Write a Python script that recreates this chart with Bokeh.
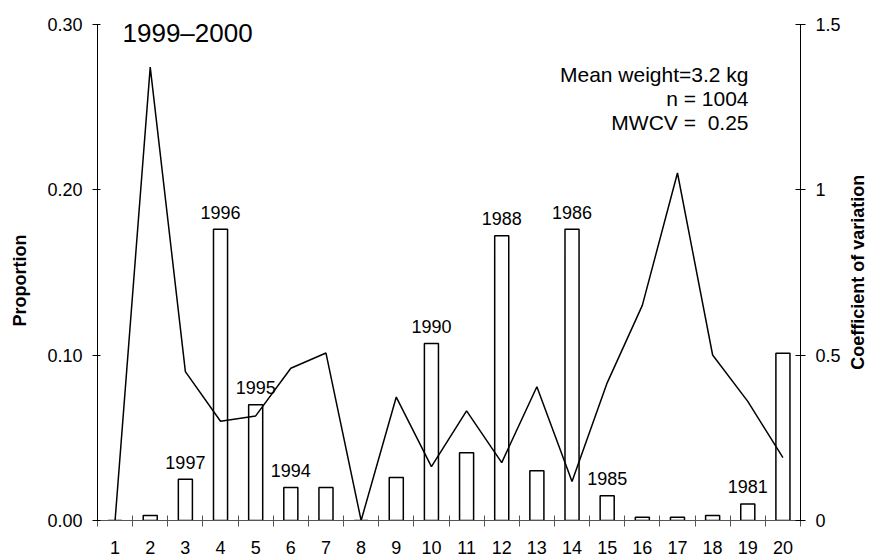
from math import pi
from bokeh.plotting import figure
from bokeh.models import (LinearAxis, Range1d, FixedTicker, NumeralTickFormatter,
                          Label, ColumnDataSource)
from bokeh.core.properties import value
from bokeh.embed import file_html
from bokeh.resources import INLINE

# ---------------- data ----------------
categories = list(range(1, 21))
proportion = [0.000, 0.003, 0.025, 0.176, 0.070, 0.020, 0.020, 0.000, 0.026, 0.107,
              0.041, 0.172, 0.030, 0.176, 0.015, 0.002, 0.002, 0.003, 0.010, 0.101]
coef_var = [0.00, 1.37, 0.45, 0.30, 0.316, 0.46, 0.506, 0.00, 0.373, 0.163,
            0.331, 0.175, 0.404, 0.118, 0.416, 0.65, 1.05, 0.50, 0.36, 0.19]
year_cats = [3, 4, 5, 6, 10, 12, 14, 15, 19]
year_labels = ["1997", "1996", "1995", "1994", "1990", "1988", "1986", "1985", "1981"]
prop_ticks = [0.0, 0.1, 0.2, 0.3]
cv_ticks = [0, 0.5, 1, 1.5]
cv_tick_labels = ["0", "0.5", "1", "1.5"]
title_text = "1999\u20132000"
stats_lines = ["Mean weight=3.2 kg", "n = 1004", "MWCV =\u00a0 0.25"]
y_label = "Proportion"
y2_label = "Coefficient of variation"

FONT = "Liberation Sans"
PROP_MAX, CV_MAX = 0.30, 1.5
HEADROOM = 0.01 / 0.30  # extra room above the axes for the panel title

p = figure(width=870, height=556, output_backend="svg", toolbar_location=None,
           x_range=Range1d(0.5, 20.5),
           y_range=Range1d(0, PROP_MAX * (1 + HEADROOM)),
           min_border_left=97, min_border_right=70, min_border_top=7,
           min_border_bottom=35)
p.extra_y_ranges = {"cv": Range1d(0, CV_MAX * (1 + HEADROOM))}
p.outline_line_color = None
p.xgrid.visible = False
p.ygrid.visible = False
p.background_fill_color = "white"

# bars
src = ColumnDataSource(dict(x=categories, top=proportion))
p.vbar(x="x", top="top", width=0.4, source=src, fill_color="white",
       line_color="black", line_width=1.5)

# CV line
p.line(categories, coef_var, y_range_name="cv", line_color="black", line_width=1.5)

# year labels above bars
lab_y = [proportion[c - 1] for c in year_cats]
p.text(x=year_cats, y=lab_y, text=year_labels, text_align="center",
       text_baseline="alphabetic", y_offset=-17, text_font=value(FONT),
       text_font_size="18px", text_color="black")

# x axis
xa = p.xaxis[0]
xa.ticker = FixedTicker(ticks=categories, minor_ticks=[c - 0.5 for c in categories] + [20.5])
xa.major_tick_in = 0
xa.major_tick_out = 0
xa.minor_tick_in = 5
xa.minor_tick_out = 6
xa.minor_tick_line_color = "#555555"
xa.axis_line_color = "#555555"
xa.major_label_standoff = 14
xa.major_label_text_font = FONT
xa.major_label_text_font_size = "18px"
xa.major_label_text_color = "black"

# left axis
ya = p.yaxis[0]
ya.bounds = (0, PROP_MAX)
ya.ticker = FixedTicker(ticks=prop_ticks, minor_ticks=[])
ya.formatter = NumeralTickFormatter(format="0.00")
ya.major_tick_in = 3
ya.major_tick_out = 5
ya.major_label_standoff = 10
ya.major_label_text_font = FONT
ya.major_label_text_font_size = "18px"
ya.major_label_text_color = "black"

# right axis
ra = LinearAxis(y_range_name="cv", ticker=FixedTicker(ticks=cv_ticks, minor_ticks=[]))
ra.bounds = (0, CV_MAX)
ra.major_label_overrides = {t: s for t, s in zip(cv_ticks, cv_tick_labels)}
ra.major_tick_in = 5
ra.major_tick_out = 5
ra.major_label_standoff = 10
ra.major_label_text_font = FONT
ra.major_label_text_font_size = "18px"
ra.major_label_text_color = "black"
p.add_layout(ra, "right")

# axis titles, both reading bottom-to-top, placed in the side panels
LEFT_TITLE_Y = 0.145
RIGHT_TITLE_Y = 0.75
p.add_layout(Label(x=0.5, y=LEFT_TITLE_Y, x_offset=-78, text=y_label, angle=pi / 2,
                   text_align="center", text_baseline="middle", text_font=FONT,
                   text_font_size="18px", text_font_style="bold", text_color="black"),
             "left")
p.add_layout(Label(x=20.5, y=RIGHT_TITLE_Y, y_range_name="cv", x_offset=57, text=y2_label,
                   angle=pi / 2, text_align="center", text_baseline="middle",
                   text_font=FONT, text_font_size="18px", text_font_style="bold",
                   text_color="black"),
             "right")

# panel title
p.add_layout(Label(x=0.5, y=PROP_MAX, x_offset=25, y_offset=-9, text=title_text,
                   text_align="left", text_baseline="alphabetic", text_font=FONT,
                   text_font_size="26px", text_color="black"))

# stats text
for i, line in enumerate(stats_lines):
    p.add_layout(Label(x=20.5, y=PROP_MAX, x_offset=-52, y_offset=-50 - 24 * i, text=line,
                       text_align="right", text_baseline="alphabetic", text_font=FONT,
                       text_font_size="21px", text_color="black"))

open("out.html", "w").write(file_html(p, INLINE))
